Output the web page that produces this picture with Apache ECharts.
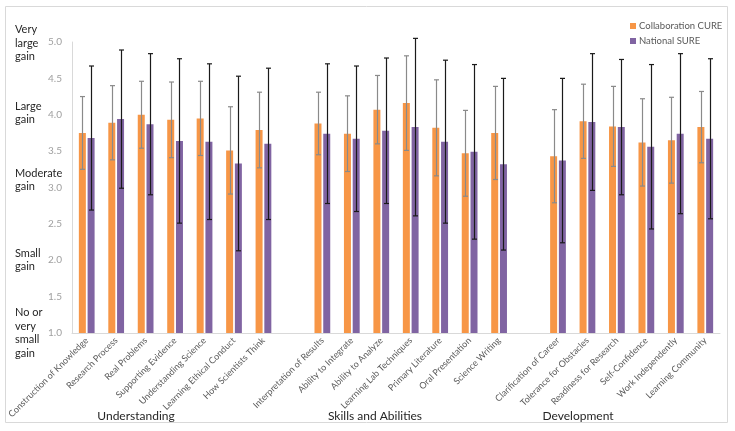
<!DOCTYPE html>
<html><head><meta charset="utf-8">
<script src="https://cdn.jsdelivr.net/npm/echarts@6/dist/echarts.min.js"></script>
<style>html,body{margin:0;padding:0;background:#fff}#c{width:735px;height:431px}</style>
</head><body><div id="c"></div>
<script>
const understanding = ['Construction of Knowledge','Research Process','Real Problems','Supporting Evidence','Understanding Science','Learning Ethical Conduct','How Scientists Think'];
const skills = ['Interpretation of Results','Ability to Integrate','Ability to Analyze','Learning Lab Techniques','Primary Literature','Oral Presentation','Science Writing'];
const development = ['Clarification of Career','Tolerance for Obstacles','Readiness for Research','Self-Confidence','Work Independently','Learning Community'];
const groupNames = ['Understanding','Skills and Abilities','Development'];
const seriesNames = ['Collaboration CURE','National SURE'];
const gainLabels = ['Very\nlarge\ngain','Large\ngain','Moderate\ngain','Small\ngain','No or\nvery\nsmall\ngain'];
const yTicks = [1.0,1.5,2.0,2.5,3.0,3.5,4.0,4.5,5.0];
const cureMeans = [3.75,3.89,4.00,3.93,3.95,3.51,3.79, 3.88,3.74,4.07,4.16,3.82,3.47,3.75, 3.43,3.91,3.84,3.62,3.65,3.83];
const cureSD    = [0.50,0.51,0.46,0.52,0.51,0.60,0.52, 0.43,0.52,0.47,0.65,0.66,0.59,0.64, 0.64,0.51,0.55,0.60,0.59,0.49];
const sureMeans = [3.68,3.94,3.87,3.64,3.63,3.33,3.60, 3.74,3.67,3.78,3.83,3.63,3.49,3.32, 3.37,3.90,3.83,3.56,3.74,3.67];
const sureSD    = [0.99,0.95,0.97,1.13,1.07,1.20,1.04, 0.96,1.00,1.00,1.22,1.12,1.20,1.18, 1.13,0.94,0.93,1.13,1.10,1.10];

// build category axis with blank gap slots between groups
const categories = [].concat(understanding, [''], skills, [''], development);
const slotIdx = [];
categories.forEach((c, i) => { if (c !== '') slotIdx.push(i); });
function spread(arr) {
  const out = categories.map(() => '-');
  arr.forEach((v, k) => { out[slotIdx[k]] = v; });
  return out;
}
function errData(means, sd) {
  return means.map((m, k) => [slotIdx[k], m - sd[k], m + sd[k]]);
}
const ORANGE = '#F79646', PURPLE = '#8064A2';
const BAR_W = 7, OFF = 4.4;
function errRender(offset, color) {
  return function (params, api) {
    const lo = api.coord([api.value(0), api.value(1)]);
    const hi = api.coord([api.value(0), api.value(2)]);
    const x = Math.round(lo[0] + offset) + 0.5;
    const cap = 2.5;
    const st = { stroke: color, lineWidth: 1.2 };
    return { type: 'group', children: [
      { type: 'line', shape: { x1: x, y1: hi[1], x2: x, y2: lo[1] }, style: st },
      { type: 'line', shape: { x1: x - cap, y1: hi[1], x2: x + cap, y2: hi[1] }, style: st },
      { type: 'line', shape: { x1: x - cap, y1: lo[1], x2: x + cap, y2: lo[1] }, style: st }
    ]};
  };
}
const chart = echarts.init(document.getElementById('c'), null, { renderer: 'canvas' });
const FONT = 'Lato';
const gainY = [43, 113, 180, 260, 333];
const groupX = [136, 375, 578];
const graphics = [
  { type: 'rect', shape: { x: 5.5, y: 6.5, width: 722, height: 416 }, style: { fill: 'none', stroke: '#d9d9d9', lineWidth: 1 }, silent: true }
];
gainLabels.forEach((t, i) => graphics.push({
  type: 'text', x: 15, y: gainY[i],
  style: { text: t, font: '11px ' + FONT, fill: '#262626', textVerticalAlign: 'middle', lineHeight: 13.5 }
}));
groupNames.forEach((t, i) => graphics.push({
  type: 'text', x: groupX[i], y: 416,
  style: { text: t, font: '12px ' + FONT, fill: '#262626', textAlign: 'center', textVerticalAlign: 'middle' }
}));
chart.setOption({
  animation: false,
  textStyle: { fontFamily: FONT },
  grid: { left: 72, right: 15, top: 42, bottom: 98, containLabel: false },
  legend: {
    data: seriesNames, orient: 'vertical', left: 625, top: 16, itemGap: 5,
    icon: 'rect', itemWidth: 6, itemHeight: 6,
    textStyle: { fontSize: 9.5, color: '#595959', fontFamily: FONT, padding: [0, 0, 0, -2] }
  },
  xAxis: {
    type: 'category', data: categories,
    axisLine: { lineStyle: { color: '#d9d9d9' } },
    axisTick: { show: false },
    axisLabel: { rotate: 45, interval: 0, fontSize: 9, color: '#595959', margin: 6, fontFamily: FONT }
  },
  yAxis: {
    type: 'value', min: 1, max: 5, interval: 0.5,
    splitLine: { show: false },
    axisLine: { show: true, lineStyle: { color: '#d9d9d9' } },
    axisTick: { show: false },
    axisLabel: { fontSize: 10, color: '#a0a0a0', margin: 10, fontFamily: FONT, formatter: v => (yTicks.indexOf(v) >= 0 ? v.toFixed(1) : '') }
  },
  series: [
    { name: seriesNames[0], type: 'bar', data: spread(cureMeans), barWidth: BAR_W, barGap: '25%', itemStyle: { color: ORANGE } },
    { name: seriesNames[1], type: 'bar', data: spread(sureMeans), barWidth: BAR_W, barGap: '25%', itemStyle: { color: PURPLE } },
    { type: 'custom', data: errData(cureMeans, cureSD), renderItem: errRender(-OFF, '#8a8a8a'), encode: { x: 0, y: [1, 2] }, z: 5 },
    { type: 'custom', data: errData(sureMeans, sureSD), renderItem: errRender(OFF, '#1a1a1a'), encode: { x: 0, y: [1, 2] }, z: 5 }
  ],
  graphic: graphics
});
</script>
</body></html>
